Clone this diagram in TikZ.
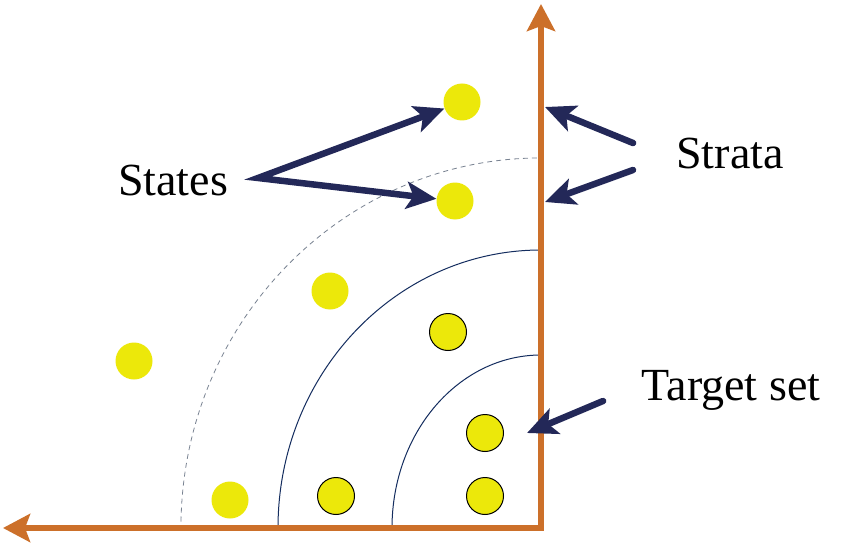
\documentclass[tikz,border=0pt]{standalone}
\usepackage{fontspec}
\setmainfont{Liberation Serif}
\usetikzlibrary{arrows.meta}
\definecolor{axisor}{RGB}{204,112,42}
\definecolor{navy}{RGB}{35,40,88}
\definecolor{arcblue}{RGB}{20,45,95}
\definecolor{dashgray}{RGB}{120,130,145}
\definecolor{ball}{RGB}{236,232,10}
\begin{document}
\begin{tikzpicture}[x=1pt,y=-1pt,
  axisline/.style={draw=axisor,line width=6.5pt,line join=miter,
    arrows={Stealth[length=27pt,width=28pt,inset=5pt]-Stealth[length=27pt,width=28pt,inset=5pt]}},
  pointer/.style={draw=navy,line width=6.5pt,line cap=round,
    -{Stealth[length=30pt,width=27pt,inset=7pt]}},
  twopointer/.style={draw=navy,line width=6.5pt,line join=miter,miter limit=20,
    {Stealth[length=30pt,width=27pt,inset=7pt]}-{Stealth[length=30pt,width=27pt,inset=7pt]}},
  stratum/.style={draw=arcblue,line width=1pt},
  bound/.style={draw=dashgray,line width=0.8pt,dash pattern=on 5pt off 4pt},
  state/.style={circle,fill=ball,minimum size=37pt,inner sep=0pt},
  tstate/.style={state,draw=black,line width=1pt},
  lbl/.style={font=\fontsize{46pt}{50pt}\selectfont,anchor=base,inner sep=0pt}]
\useasboundingbox[fill=white] (0,0) rectangle (850,548);
% strata arcs
\draw[bound] (181,521.5) arc[start angle=181,end angle=270,x radius=360,y radius=370];
\draw[stratum] (278,528) arc[start angle=180,end angle=270,x radius=263,y radius=278];
\draw[stratum] (392,528) arc[start angle=180,end angle=270,x radius=149,y radius=173];
% axes
\coordinate (left) at (3,528);
\coordinate (corner) at (541,528);
\coordinate (top) at (541,4);
\draw[axisline] (left) -- (corner) -- (top);
% states
\node[state] (s1) at (462,102) {};
\node[state] (s2) at (455,201) {};
\node[state] (s3) at (330,291) {};
\node[state] (s4) at (134,361) {};
\node[state] (s5) at (230,500) {};
\node[tstate] (s6) at (336,496) {};
\node[tstate] (s7) at (448,332) {};
\node[tstate] (s8) at (485,433) {};
\node[tstate] (s9) at (485,496) {};
% labels
\node[lbl] (states) at (173,195) {States};
\node[lbl] (strata) at (730,168) {Strata};
\node[lbl] (target) at (731,400) {Target set};
% pointers
\coordinate (sfrom) at (258,178);
\draw[twopointer] (s1) -- (sfrom) -- (s2);
\coordinate (tfrom1) at (633,143);
\coordinate (tfrom2) at (633,170);
\coordinate (ax1) at (545,107);
\coordinate (ax2) at (545,202);
\draw[pointer] (tfrom1) -- (ax1);
\draw[pointer] (tfrom2) -- (ax2);
\coordinate (gfrom) at (603,401);
\coordinate (ax3) at (527,433);
\draw[pointer] (gfrom) -- (ax3);
\end{tikzpicture}
\end{document}
